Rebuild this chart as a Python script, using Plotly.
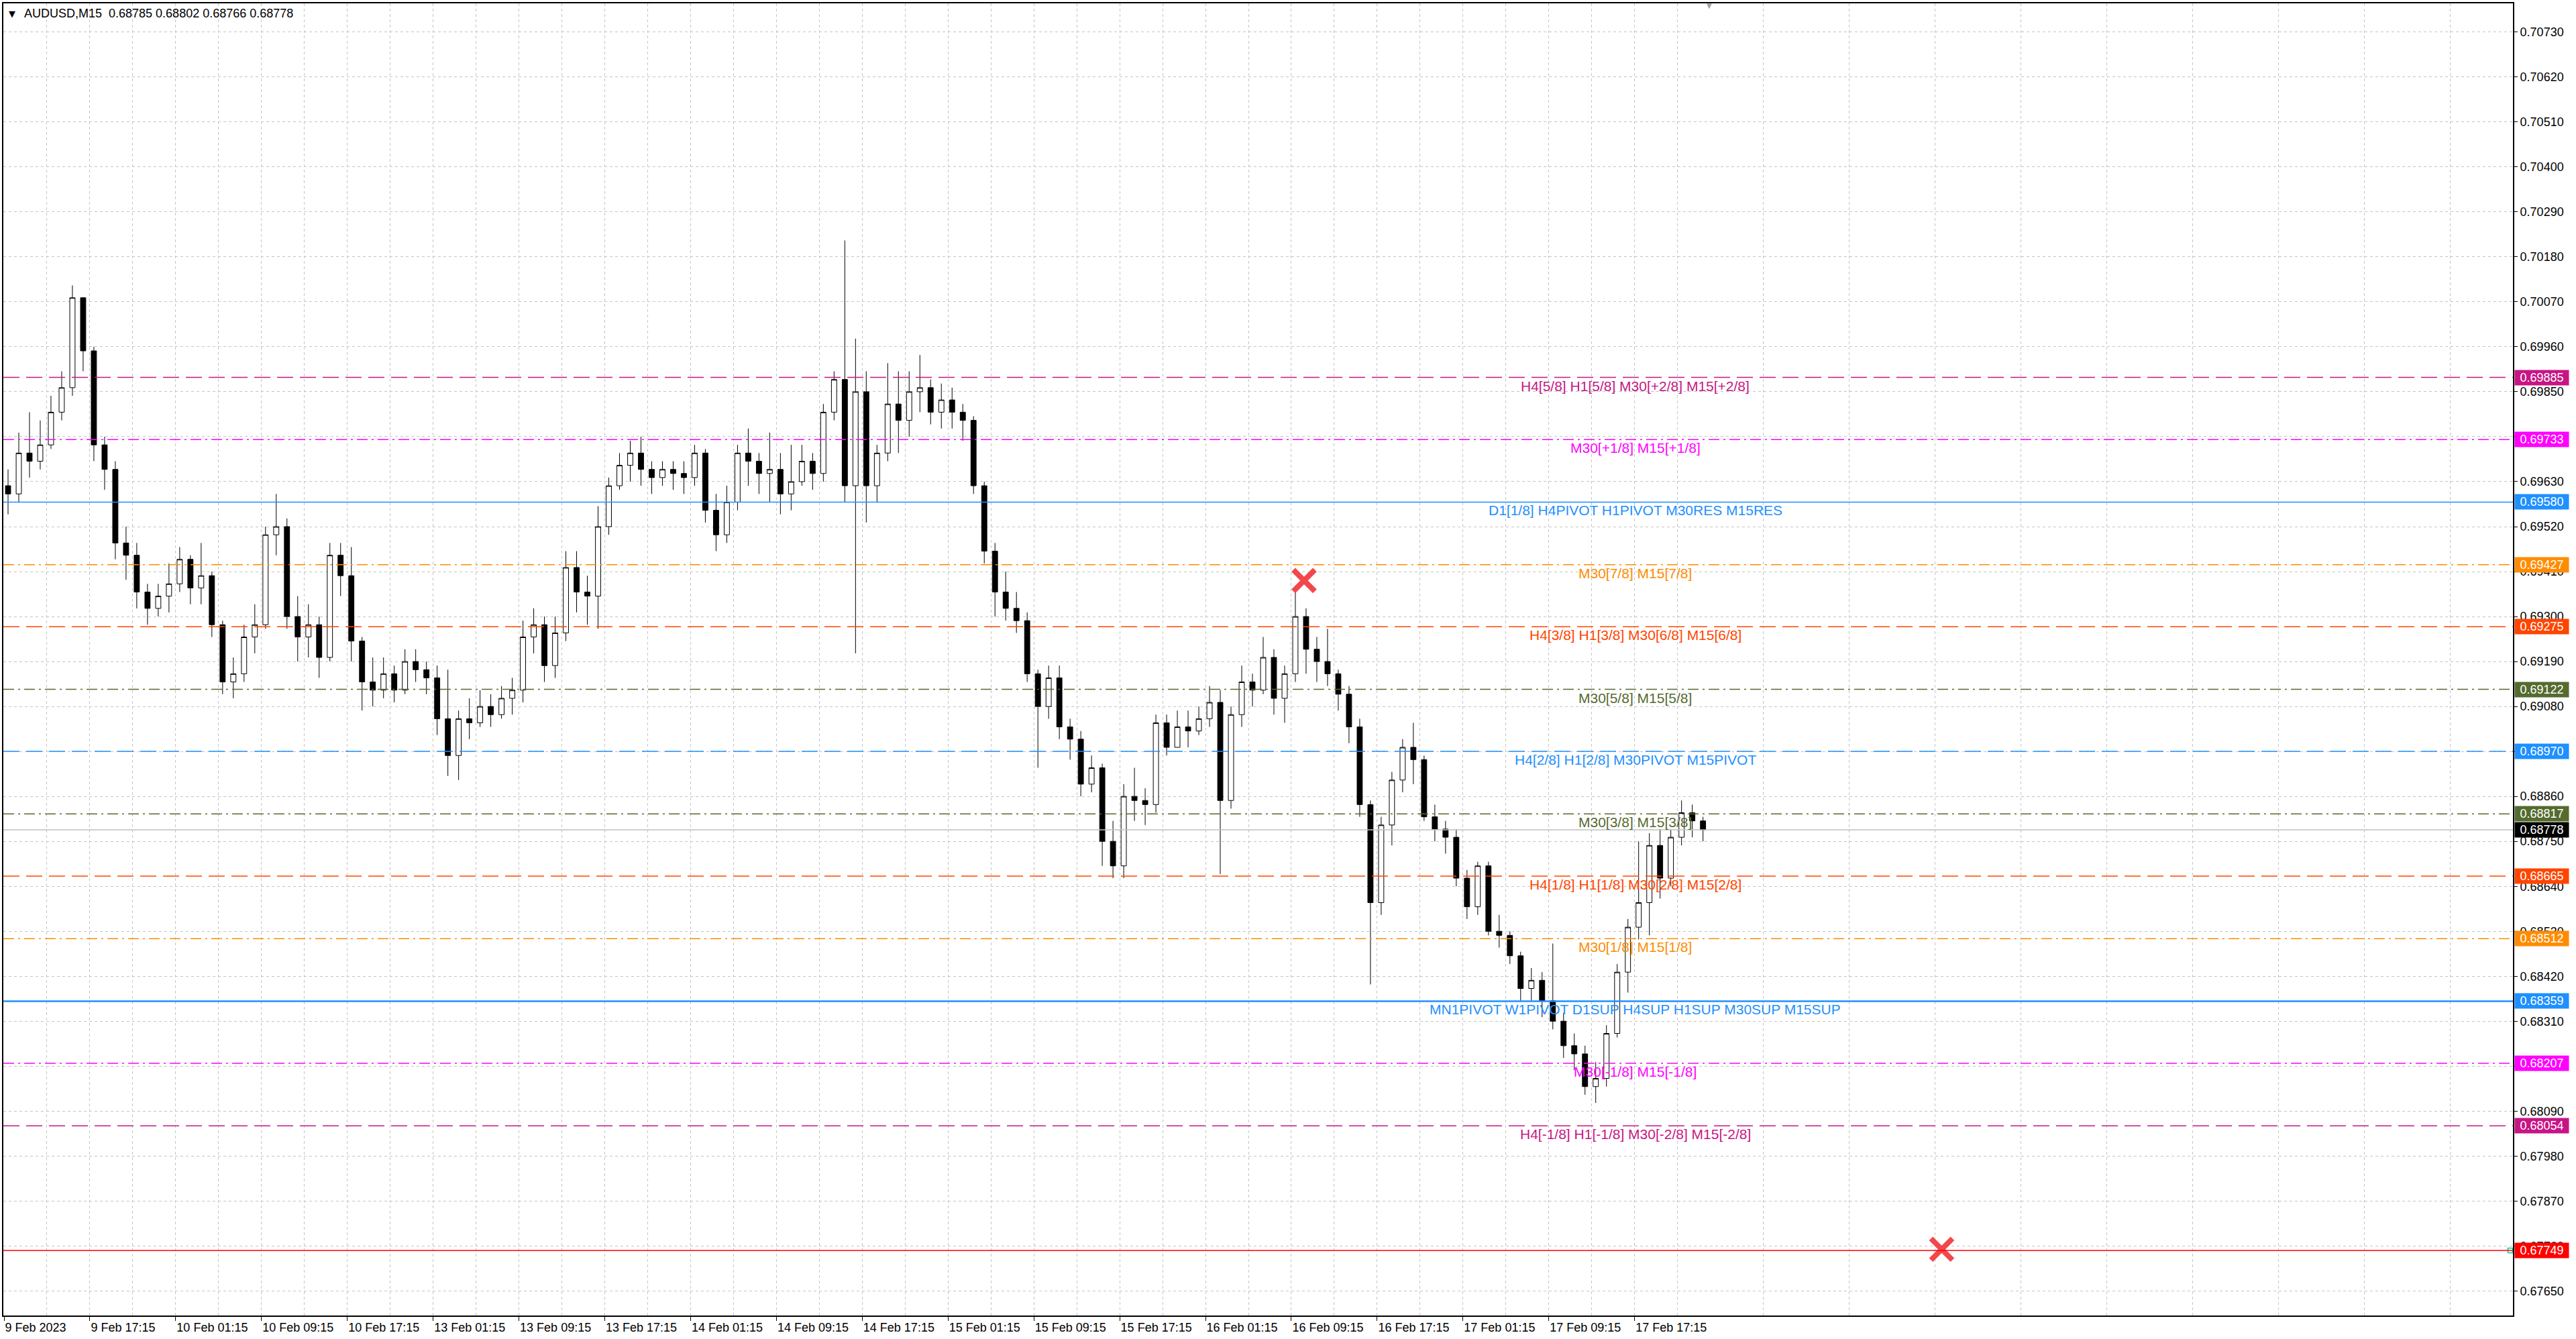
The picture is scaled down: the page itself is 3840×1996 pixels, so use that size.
import plotly.graph_objects as go

# AUDUSD M15 chart, candles grouped by the hour (4 x M15 bars, first bar 9 Feb 09:15)
# prices in pips (6960 -> 0.6960)
first_open = 6962
closes = [
    6960, 6970, 6968, 6972, 6980, 6986, 7008, 6995, 6972, 6966,
    6948, 6945, 6936, 6932, 6935, 6938, 6944, 6937, 6940, 6928,
    6914, 6916, 6925, 6928, 6950, 6952, 6930, 6925, 6928, 6920,
    6945, 6940, 6924, 6914, 6912, 6916, 6912, 6919, 6917, 6915,
    6905, 6896, 6905, 6904, 6908, 6906, 6910, 6912, 6925, 6928,
    6918, 6926, 6942, 6936, 6935, 6952, 6962, 6967, 6970, 6966,
    6964, 6966, 6965, 6964, 6970, 6956, 6950, 6958, 6970, 6968,
    6965, 6966, 6960, 6963, 6968, 6965, 6980, 6988, 6962, 6985,
    6962, 6970, 6982, 6978, 6985, 6986, 6980, 6983, 6980, 6978,
    6962, 6946, 6936, 6932, 6929, 6916, 6908, 6915, 6903, 6900,
    6889, 6893, 6875, 6869, 6886, 6885, 6884, 6904, 6898, 6903,
    6902, 6905, 6909, 6885, 6906, 6914, 6912, 6920, 6910, 6916,
    6930, 6922, 6919, 6916, 6911, 6903, 6884, 6860, 6879, 6890,
    6898, 6895, 6881, 6878, 6876, 6866, 6859, 6869, 6853, 6852,
    6847, 6839, 6841, 6836, 6831, 6825, 6823, 6815, 6817, 6828,
    6843, 6854, 6860, 6874, 6866, 6876, 6882, 6880, 6877.8,
]
highs = [
    6966, 6975, 6980, 6978, 6984, 6990, 7011, 7006, 6996, 6974,
    6968, 6952, 6948, 6938, 6938, 6943, 6947, 6945, 6948, 6941,
    6929, 6920, 6928, 6933, 6952, 6960, 6954, 6935, 6933, 6930,
    6948, 6948, 6947, 6925, 6920, 6920, 6918, 6922, 6922, 6919,
    6918, 6917, 6907, 6910, 6912, 6911, 6913, 6915, 6929, 6932,
    6930, 6930, 6946, 6946, 6940, 6957, 6964, 6970, 6973, 6974,
    6968, 6968, 6968, 6968, 6972, 6971, 6960, 6962, 6972, 6976,
    6970, 6975, 6970, 6972, 6972, 6970, 6982, 6990, 7022, 6998,
    6990, 6972, 6992, 6990, 6990, 6994, 6988, 6987, 6986, 6982,
    6979, 6963, 6948, 6941, 6936, 6931, 6917, 6918, 6918, 6905,
    6902, 6896, 6894, 6880, 6889, 6893, 6888, 6906, 6906, 6907,
    6907, 6908, 6913, 6912, 6908, 6918, 6916, 6925, 6922, 6918,
    6937, 6932, 6925, 6927, 6917, 6913, 6905, 6885, 6881, 6892,
    6900, 6904, 6896, 6884, 6880, 6878, 6868, 6870, 6870, 6857,
    6853, 6848, 6844, 6843, 6850, 6833, 6828, 6825, 6821, 6830,
    6845, 6856, 6875, 6877, 6878, 6878, 6885, 6884, 6881,
]
lows = [
    6955, 6958, 6964, 6966, 6971, 6978, 6984, 6990, 6968, 6961,
    6944, 6939, 6932, 6928, 6930, 6931, 6936, 6933, 6933, 6925,
    6911, 6910, 6914, 6921, 6927, 6945, 6927, 6919, 6920, 6915,
    6919, 6935, 6919, 6907, 6908, 6910, 6909, 6911, 6914, 6911,
    6901, 6891, 6890, 6900, 6903, 6903, 6905, 6906, 6909, 6921,
    6914, 6915, 6924, 6931, 6928, 6927, 6950, 6961, 6963, 6962,
    6960, 6962, 6961, 6960, 6962, 6953, 6946, 6948, 6956, 6962,
    6960, 6958, 6955, 6956, 6962, 6961, 6963, 6978, 6958, 6921,
    6953, 6958, 6968, 6970, 6974, 6980, 6977, 6976, 6976, 6973,
    6960, 6943, 6930, 6929, 6926, 6914, 6893, 6905, 6900, 6895,
    6886, 6887, 6869, 6866, 6866, 6880, 6879, 6882, 6896, 6898,
    6898, 6901, 6903, 6867, 6883, 6903, 6908, 6911, 6906, 6904,
    6914, 6916, 6914, 6913, 6907, 6899, 6881, 6840, 6857, 6874,
    6887, 6889, 6880, 6875, 6872, 6864, 6856, 6857, 6852, 6849,
    6845, 6836, 6836, 6832, 6829, 6822, 6819, 6813, 6811, 6815,
    6827, 6838, 6851, 6852, 6861, 6864, 6874, 6876, 6875,
]
header_ohlc = ["0.68785", "0.68802", "0.68766", "0.68778"]

# Murrey-math style levels
level_prices = [0.69885, 0.69733, 0.69580, 0.69427, 0.69275, 0.69122, 0.68970,
                0.68817, 0.68665, 0.68512, 0.68359, 0.68207, 0.68054]
level_names = [
    "H4[5/8] H1[5/8] M30[+2/8] M15[+2/8]",
    "M30[+1/8] M15[+1/8]",
    "D1[1/8] H4PIVOT H1PIVOT M30RES M15RES",
    "M30[7/8] M15[7/8]",
    "H4[3/8] H1[3/8] M30[6/8] M15[6/8]",
    "M30[5/8] M15[5/8]",
    "H4[2/8] H1[2/8] M30PIVOT M15PIVOT",
    "M30[3/8] M15[3/8]",
    "H4[1/8] H1[1/8] M30[2/8] M15[2/8]",
    "M30[1/8] M15[1/8]",
    "MN1PIVOT W1PIVOT D1SUP H4SUP H1SUP M30SUP M15SUP",
    "M30[-1/8] M15[-1/8]",
    "H4[-1/8] H1[-1/8] M30[-2/8] M15[-2/8]",
]
bid_price = 0.68778
target_price = 0.67749
cross_bars = [484.75, 722.5]
cross_prices = [0.69388, 0.67752]

y_ticks = [0.67650, 0.67760, 0.67870, 0.67980, 0.68090, 0.68200, 0.68310,
           0.68420, 0.68530, 0.68640, 0.68750, 0.68860, 0.68970, 0.69080,
           0.69190, 0.69300, 0.69410, 0.69520, 0.69630, 0.69740, 0.69850,
           0.69960, 0.70070, 0.70180, 0.70290, 0.70400, 0.70510, 0.70620,
           0.70730]
x_tick_labels = [
    "9 Feb 2023", "9 Feb 17:15", "10 Feb 01:15", "10 Feb 09:15", "10 Feb 17:15",
    "13 Feb 01:15", "13 Feb 09:15", "13 Feb 17:15", "14 Feb 01:15", "14 Feb 09:15",
    "14 Feb 17:15", "15 Feb 01:15", "15 Feb 09:15", "15 Feb 17:15", "16 Feb 01:15",
    "16 Feb 09:15", "16 Feb 17:15", "17 Feb 01:15", "17 Feb 09:15", "17 Feb 17:15",
]
N_BARS = 635  # M15 bars on the chart
X_RANGE = [-0.25, 935.5]

# styles
MVR, MAG, BLUE, ORG, ORED, OLIVE = "#C71585", "#FF00FF", "#1E90FF", "#FF8C00", "#FF4500", "#556B2F"
DASH = "24px,10px"
DASHDOT = "16px,6px,3px,6px"
level_style = [
    (MVR, DASH, 1.5), (MAG, DASHDOT, 1.5), (BLUE, "solid", 1.5), (ORG, DASHDOT, 1.5),
    (ORED, DASH, 1.5), (OLIVE, DASHDOT, 1.5), (BLUE, DASH, 1.5), (OLIVE, DASHDOT, 1.5),
    (ORED, DASH, 1.5), (ORG, DASHDOT, 1.5), (BLUE, "solid", 2.5), (MAG, DASHDOT, 1.5),
    (MVR, DASH, 1.5),
]
FONT = "Liberation Sans, Arial, sans-serif"
GRID = "#c4c4c4"

PIP = 0.0001
opens = [first_open] + closes[:-1]
x_hours = [4 * k + 1.5 for k in range(len(closes))]

fig = go.Figure()
fig.add_trace(
    go.Candlestick(
        x=x_hours,
        open=[v * PIP for v in opens],
        high=[max(h, o, c) * PIP for h, o, c in zip(highs, opens, closes)],
        low=[min(l, o, c) * PIP for l, o, c in zip(lows, opens, closes)],
        close=[v * PIP for v in closes],
        increasing=dict(fillcolor="white", line=dict(color="black", width=1)),
        decreasing=dict(fillcolor="black", line=dict(color="black", width=1)),
        whiskerwidth=0,
        hoverinfo="skip",
        showlegend=False,
    )
)
fig.add_trace(
    go.Scatter(
        x=cross_bars,
        y=cross_prices,
        mode="markers",
        marker=dict(symbol="x-thin", size=32, line=dict(width=8, color="#F2484B")),
        hoverinfo="skip",
        showlegend=False,
    )
)
# small square at the end of the target line
fig.add_trace(
    go.Scatter(
        x=[X_RANGE[1] - 1],
        y=[target_price],
        mode="markers",
        marker=dict(symbol="square-open", size=7, line=dict(width=1.5, color="#FF0000")),
        hoverinfo="skip",
        showlegend=False,
    )
)

shapes = []
annotations = []
for price, name, (color, dash, width) in zip(level_prices, level_names, level_style):
    shapes.append(dict(type="line", xref="paper", x0=0, x1=1, y0=price, y1=price,
                       line=dict(color=color, width=width, dash=dash), layer="above"))
    annotations.append(dict(x=0.6503, xref="paper", y=price, yref="y", text=name,
                            showarrow=False, xanchor="center", yanchor="top", yshift=1,
                            font=dict(family=FONT, size=21, color=color)))
    annotations.append(dict(x=1, xref="paper", xanchor="left", xshift=2, y=price, yref="y",
                            text=f"{price:.5f}", showarrow=False, bgcolor=color,
                            width=80, height=22, borderpad=0,
                            font=dict(family=FONT, size=18, color="white")))

# bid line and target line
shapes.append(dict(type="line", xref="paper", x0=0, x1=1, y0=bid_price, y1=bid_price,
                   line=dict(color="#C0C0C0", width=1.5), layer="above"))
annotations.append(dict(x=1, xref="paper", xanchor="left", xshift=2, y=bid_price, yref="y",
                        text=f"{bid_price:.5f}", showarrow=False, bgcolor="black",
                        width=80, height=22, borderpad=0,
                        font=dict(family=FONT, size=18, color="white")))
shapes.append(dict(type="line", xref="paper", x0=0, x1=1, y0=target_price, y1=target_price,
                   line=dict(color="#FF0000", width=1.5), layer="above"))
annotations.append(dict(x=1, xref="paper", xanchor="left", xshift=2, y=target_price, yref="y",
                        text=f"{target_price:.5f}", showarrow=False, bgcolor="#FF0000",
                        width=80, height=22, borderpad=0,
                        font=dict(family=FONT, size=18, color="white")))

# header
annotations.append(dict(x=0, xref="paper", y=1, yref="paper", xanchor="left", yanchor="middle",
                        xshift=6, yshift=-15, text="▼", showarrow=False,
                        font=dict(family="DejaVu Sans", size=13, color="black")))
annotations.append(dict(x=0, xref="paper", y=1, yref="paper", xanchor="left", yanchor="middle",
                        xshift=29, yshift=-15, showarrow=False,
                        text="AUDUSD,M15\u00a0\u00a0" + " ".join(header_ohlc),
                        font=dict(family=FONT, size=18, color="black")))
# chart shift marker
annotations.append(dict(x=N_BARS + 0.75, xref="x", y=1, yref="paper", yanchor="top",
                        yshift=4, text="▼", showarrow=False,
                        font=dict(family="DejaVu Sans", size=10, color="#a0a0a0")))

fig.update_layout(
    width=3840,
    height=1996,
    margin=dict(l=3, r=94, t=5, b=35),
    paper_bgcolor="white",
    plot_bgcolor="white",
    showlegend=False,
    shapes=shapes,
    annotations=annotations,
    font=dict(family=FONT, size=18, color="black"),
    xaxis=dict(
        range=X_RANGE,
        rangeslider=dict(visible=False),
        tickmode="array",
        tickvals=[32 * k for k in range(len(x_tick_labels))],
        ticktext=x_tick_labels,
        ticks="outside",
        ticklen=6,
        tickcolor="black",
        ticklabelposition="outside right",
        showline=True,
        linecolor="black",
        linewidth=2,
        mirror=True,
        showgrid=True,
        gridcolor=GRID,
        griddash="4px,4px",
        gridwidth=1,
        minor=dict(tickmode="array", tickvals=[16 + 32 * k for k in range(30)],
                   showgrid=True, gridcolor=GRID, griddash="4px,4px", ticks=""),
        zeroline=False,
        tickfont=dict(family=FONT, size=18, color="black"),
    ),
    yaxis=dict(
        side="right",
        range=[0.675899, 0.708002],
        tickmode="array",
        tickvals=y_ticks,
        ticktext=[f"{v:.5f}" for v in y_ticks],
        ticks="outside",
        ticklen=5,
        tickcolor="black",
        showline=True,
        linecolor="black",
        linewidth=2,
        mirror=True,
        showgrid=True,
        gridcolor=GRID,
        griddash="4px,4px",
        gridwidth=1,
        zeroline=False,
        tickfont=dict(family=FONT, size=18, color="black"),
    ),
)

fig.write_html(
    "out.html",
    config={"displayModeBar": False},
    post_script="document.body.style.margin='0';document.body.style.overflow='hidden';",
)
